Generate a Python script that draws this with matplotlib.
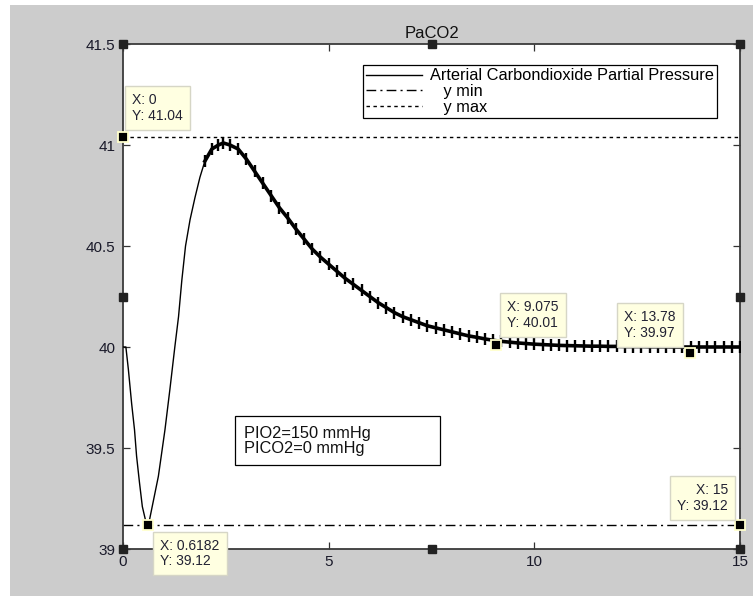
import matplotlib
matplotlib.use("Agg")
import matplotlib.pyplot as plt
from matplotlib.patches import Rectangle

plt.rcParams['font.family'] = ['Liberation Sans', 'DejaVu Sans']

# arterial CO2 partial pressure trace (mmHg) against time (s)
time_s = [0.0, 0.07, 0.13, 0.21, 0.28, 0.33, 0.40, 0.47, 0.55, 0.62, 0.66, 0.76,
          0.86, 1.02, 1.14, 1.26, 1.35, 1.43, 1.52, 1.63, 1.75, 1.87, 1.99, 2.16,
          2.32, 2.44, 2.60, 2.80,
          3.0, 3.2, 3.4, 3.6, 3.8, 4.0, 4.2, 4.4, 4.6, 4.8,
          5.0, 5.2, 5.4, 5.6, 5.8, 6.0, 6.2, 6.4, 6.6, 6.8,
          7.0, 7.2, 7.4, 7.6, 7.8, 8.0, 8.2, 8.4, 8.6, 8.8,
          9.0, 9.2, 9.4, 9.6, 9.8, 10.0, 10.2, 10.4, 10.6, 10.8,
          11.0, 11.2, 11.4, 11.6, 11.8, 12.0, 12.2, 12.4, 12.6, 12.8,
          13.0, 13.2, 13.4, 13.6, 13.8, 14.0, 14.2, 14.4, 14.6, 14.8, 15.0]
paco2 = [40.00, 40.00, 39.89, 39.72, 39.59, 39.46, 39.33, 39.21, 39.14, 39.12, 39.16, 39.26,
         39.36, 39.59, 39.79, 40.00, 40.15, 40.33, 40.50, 40.63, 40.74, 40.84, 40.92, 40.98,
         41.00, 41.01, 41.00, 40.98,
         40.93, 40.87, 40.81, 40.75, 40.69, 40.64, 40.585, 40.535, 40.485, 40.445,
         40.41, 40.375, 40.34, 40.31, 40.28, 40.25, 40.22, 40.195, 40.17, 40.15,
         40.135, 40.12, 40.105, 40.095, 40.085, 40.075, 40.065, 40.055, 40.048, 40.04,
         40.033, 40.028, 40.024, 40.02, 40.017, 40.014, 40.012, 40.01, 40.008, 40.007,
         40.006, 40.005, 40.004, 40.004, 40.003, 40.003, 40.002, 40.002, 40.002, 40.001,
         40.001, 40.001, 40.0, 40.0, 40.0, 40.0, 40.0, 40.0, 40.0, 40.0, 40.0]

y_min = 39.12
y_max = 41.04

# data tips placed on the figure
tip_x = [0, 0.6182, 9.075, 13.78, 15]
tip_y = [41.04, 39.12, 40.01, 39.97, 39.12]

x_ticks = [0, 5, 10, 15]
y_ticks = [39, 39.5, 40, 40.5, 41, 41.5]
y_tick_labels = ['39', '39.5', '40', '40.5', '41', '41.5']

legend_labels = ['Arterial Carbondioxide Partial Pressure', '   y min', '   y max']
note_text = 'PIO2=150 mmHg\nPICO2=0 mmHg'

fig = plt.figure(figsize=(7.53, 5.96), dpi=100, facecolor='#cccccc')
fig.patches.append(Rectangle((0, 0), 10 / 753, 1, transform=fig.transFigure,
                             facecolor='white', edgecolor='none', zorder=-5))
fig.patches.append(Rectangle((0, 1 - 5 / 596), 1, 5 / 596, transform=fig.transFigure,
                             facecolor='white', edgecolor='none', zorder=-5))

ax = fig.add_axes([123 / 753, 1 - 549 / 596, 617 / 753, 505 / 596])
ax.set_facecolor('white')

line, = ax.plot(time_s, paco2, color='black', lw=1.0, zorder=3)
# breathing ripple on the slow part of the trace
k = time_s.index(1.99)
ax.plot(time_s[k:], paco2[k:], color='black', lw=2.6, marker='|', ms=8.5, mew=1.7,
        zorder=3)
lmin, = ax.plot([0, 15], [y_min, y_min], color='black', lw=1.0,
                linestyle=(0, (7, 3, 1.5, 3)), zorder=2)
lmax, = ax.plot([0, 15], [y_max, y_max], color='black', lw=1.0,
                linestyle=(0, (2.5, 2.5)), zorder=2)

ax.set_xlim(0, 15)
ax.set_ylim(39, 41.5)
ax.set_xticks(x_ticks)
ax.set_xticklabels([str(v) for v in x_ticks])
ax.set_yticks(y_ticks)
ax.set_yticklabels(y_tick_labels)
ax.tick_params(direction='in', length=5, width=0.9, color='#333333',
               labelsize=11, labelcolor='#1a1a2a', top=True, right=True)
ax.tick_params(axis='x', pad=4)
ax.tick_params(axis='y', pad=5.5)
for sp in ax.spines.values():
    sp.set_color('#3a3a3a')
    sp.set_linewidth(1.3)

ax.set_title('PaCO2', fontsize=12, pad=4, color='#111111')

leg = fig.legend([line, lmin, lmax], legend_labels, loc='upper right',
                 bbox_to_anchor=(717 / 753, 1 - 65 / 596), fontsize=11.8,
                 handlelength=3.4, handletextpad=0.5, labelspacing=0.05,
                 borderpad=0.2, borderaxespad=0, fancybox=False, framealpha=1)
leg.get_frame().set_edgecolor('black')
leg.get_frame().set_linewidth(0.9)
for h in leg.legend_handles:
    h.set_linewidth(1.0)

# inputs box
ax.add_patch(Rectangle((112 / 617, 84 / 505), 205 / 617, 49 / 505,
                       transform=ax.transAxes, facecolor='white',
                       edgecolor='black', lw=0.9, zorder=4))
ax.text(121 / 617, 108 / 505, note_text, transform=ax.transAxes, fontsize=11.8,
        ha='left', va='center', linespacing=1.05, color='#111111', zorder=5)

# selection handles around the axes
hx = [0, 0.5, 1, 0, 1, 0, 0.5, 1]
hy = [0, 0, 0, 0.5, 0.5, 1, 1, 1]
ax.plot(hx, hy, 's', ms=5.5, color='#222222', transform=ax.transAxes,
        clip_on=False, zorder=6)

# data tips: offset in pixels and alignment for each box
tip_offsets = [(9, 14), (12, -14), (11, 15), (-14, 13), (-12, 12)]
tip_ha = ['left', 'left', 'left', 'right', 'right']
tip_va = ['bottom', 'top', 'bottom', 'bottom', 'bottom']
tip_multi = ['left', 'left', 'left', 'left', 'right']
for x, y, off, ha, va, ma in zip(tip_x, tip_y, tip_offsets, tip_ha, tip_va, tip_multi):
    ax.plot([x], [y], 's', ms=7.5, mfc='black', mec='#ffffcc', mew=1.3,
            clip_on=False, zorder=7)
    ax.annotate(f'X: {x:.4g}\nY: {y:.4g}', xy=(x, y), xytext=off,
                textcoords='offset pixels', ha=ha, va=va, multialignment=ma,
                fontsize=10, linespacing=1.15, color='#222233',
                bbox=dict(boxstyle='square,pad=0.5', fc='#ffffe1', ec='#d6d6c6', lw=1),
                annotation_clip=False, zorder=8)

fig.savefig('out.png', dpi=100, facecolor=fig.get_facecolor())
